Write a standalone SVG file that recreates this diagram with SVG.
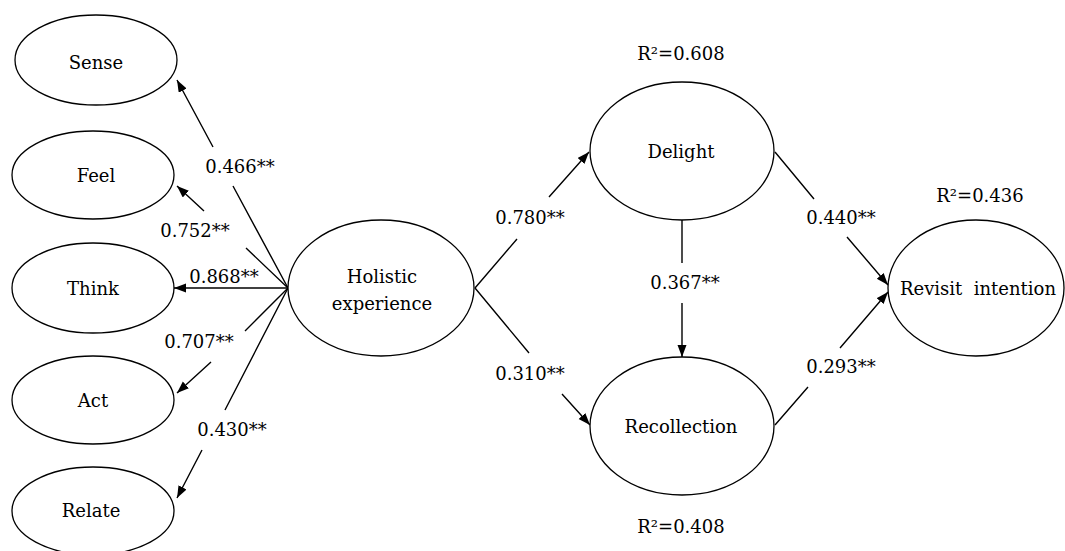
<svg xmlns="http://www.w3.org/2000/svg" width="1065" height="551" viewBox="0 0 1065 551">
<style>
.node{fill:#fff;stroke:#000;stroke-width:1.3}
.t{font-family:"DejaVu Serif","Liberation Serif",serif;font-size:18px;fill:#000;text-anchor:middle}
.c{fill:none;stroke:#000;stroke-width:1.4}
</style>
<defs>
<marker id="ah" markerUnits="userSpaceOnUse" markerWidth="13" markerHeight="10" refX="12" refY="4.5" orient="auto">
<path d="M0,0 L12,4.5 L0,9 z" fill="#000"/>
</marker>
</defs>
<rect width="1065" height="551" fill="#fff"/>
<g id="connectors">
<path class="c" marker-end="url(#ah)" d="M288,288 L233,186 M213,147 L177,80"/>
<path class="c" marker-end="url(#ah)" d="M288,288 L246,248 M204,211 L177,186"/>
<path class="c" marker-end="url(#ah)" d="M288,288 L174,288"/>
<path class="c" marker-end="url(#ah)" d="M288,288 L245,331 M211,362 L177,393"/>
<path class="c" marker-end="url(#ah)" d="M288,288 L225,410 M202,450 L177,498"/>
<path class="c" marker-end="url(#ah)" d="M475,288 L517,239 M549,197 L589,152"/>
<path class="c" marker-end="url(#ah)" d="M475,288 L529,353 M562,394 L590,425"/>
<path class="c" marker-end="url(#ah)" d="M682,220 L682,263 M682,303 L682,357"/>
<path class="c" marker-end="url(#ah)" d="M775,152 L814,199 M847,237 L888,285"/>
<path class="c" marker-end="url(#ah)" d="M775,425 L808,387 M840,348 L888,292"/>
<text class="t" x="240" y="173">0.466**</text>
<text class="t" x="195" y="237">0.752**</text>
<text class="t" x="224" y="283">0.868**</text>
<text class="t" x="199" y="348">0.707**</text>
<text class="t" x="232" y="436">0.430**</text>
<text class="t" x="530" y="224">0.780**</text>
<text class="t" x="530" y="380">0.310**</text>
<text class="t" x="685" y="289">0.367**</text>
<text class="t" x="841" y="224">0.440**</text>
<text class="t" x="841" y="373">0.293**</text>
</g>
<g id="sense"><ellipse class="node" cx="96" cy="60" rx="81" ry="45"/><text class="t" x="96" y="69">Sense</text></g>
<g id="feel"><ellipse class="node" cx="93" cy="175" rx="81" ry="44"/><text class="t" x="96" y="182">Feel</text></g>
<g id="think"><ellipse class="node" cx="93" cy="288" rx="81" ry="45"/><text class="t" x="93" y="295">Think</text></g>
<g id="act"><ellipse class="node" cx="93" cy="400" rx="81" ry="44"/><text class="t" x="93" y="407">Act</text></g>
<g id="relate"><ellipse class="node" cx="93" cy="511" rx="81" ry="44"/><text class="t" x="91" y="517">Relate</text></g>
<g id="holistic"><ellipse class="node" cx="381" cy="288" rx="93" ry="68"/><text class="t" x="382" y="283">Holistic</text><text class="t" x="382" y="310">experience</text></g>
<g id="delight"><ellipse class="node" cx="682" cy="151" rx="92" ry="69"/><text class="t" x="681" y="158">Delight</text><text class="t" x="681" y="60">R²=0.608</text></g>
<g id="recollection"><ellipse class="node" cx="682" cy="426" rx="92" ry="69"/><text class="t" x="681" y="433">Recollection</text><text class="t" x="681" y="533">R²=0.408</text></g>
<g id="revisit"><ellipse class="node" cx="976" cy="288" rx="88" ry="68"/><text class="t" x="978" y="295" xml:space="preserve">Revisit  intention</text><text class="t" x="980" y="202">R²=0.436</text></g>
</svg>
